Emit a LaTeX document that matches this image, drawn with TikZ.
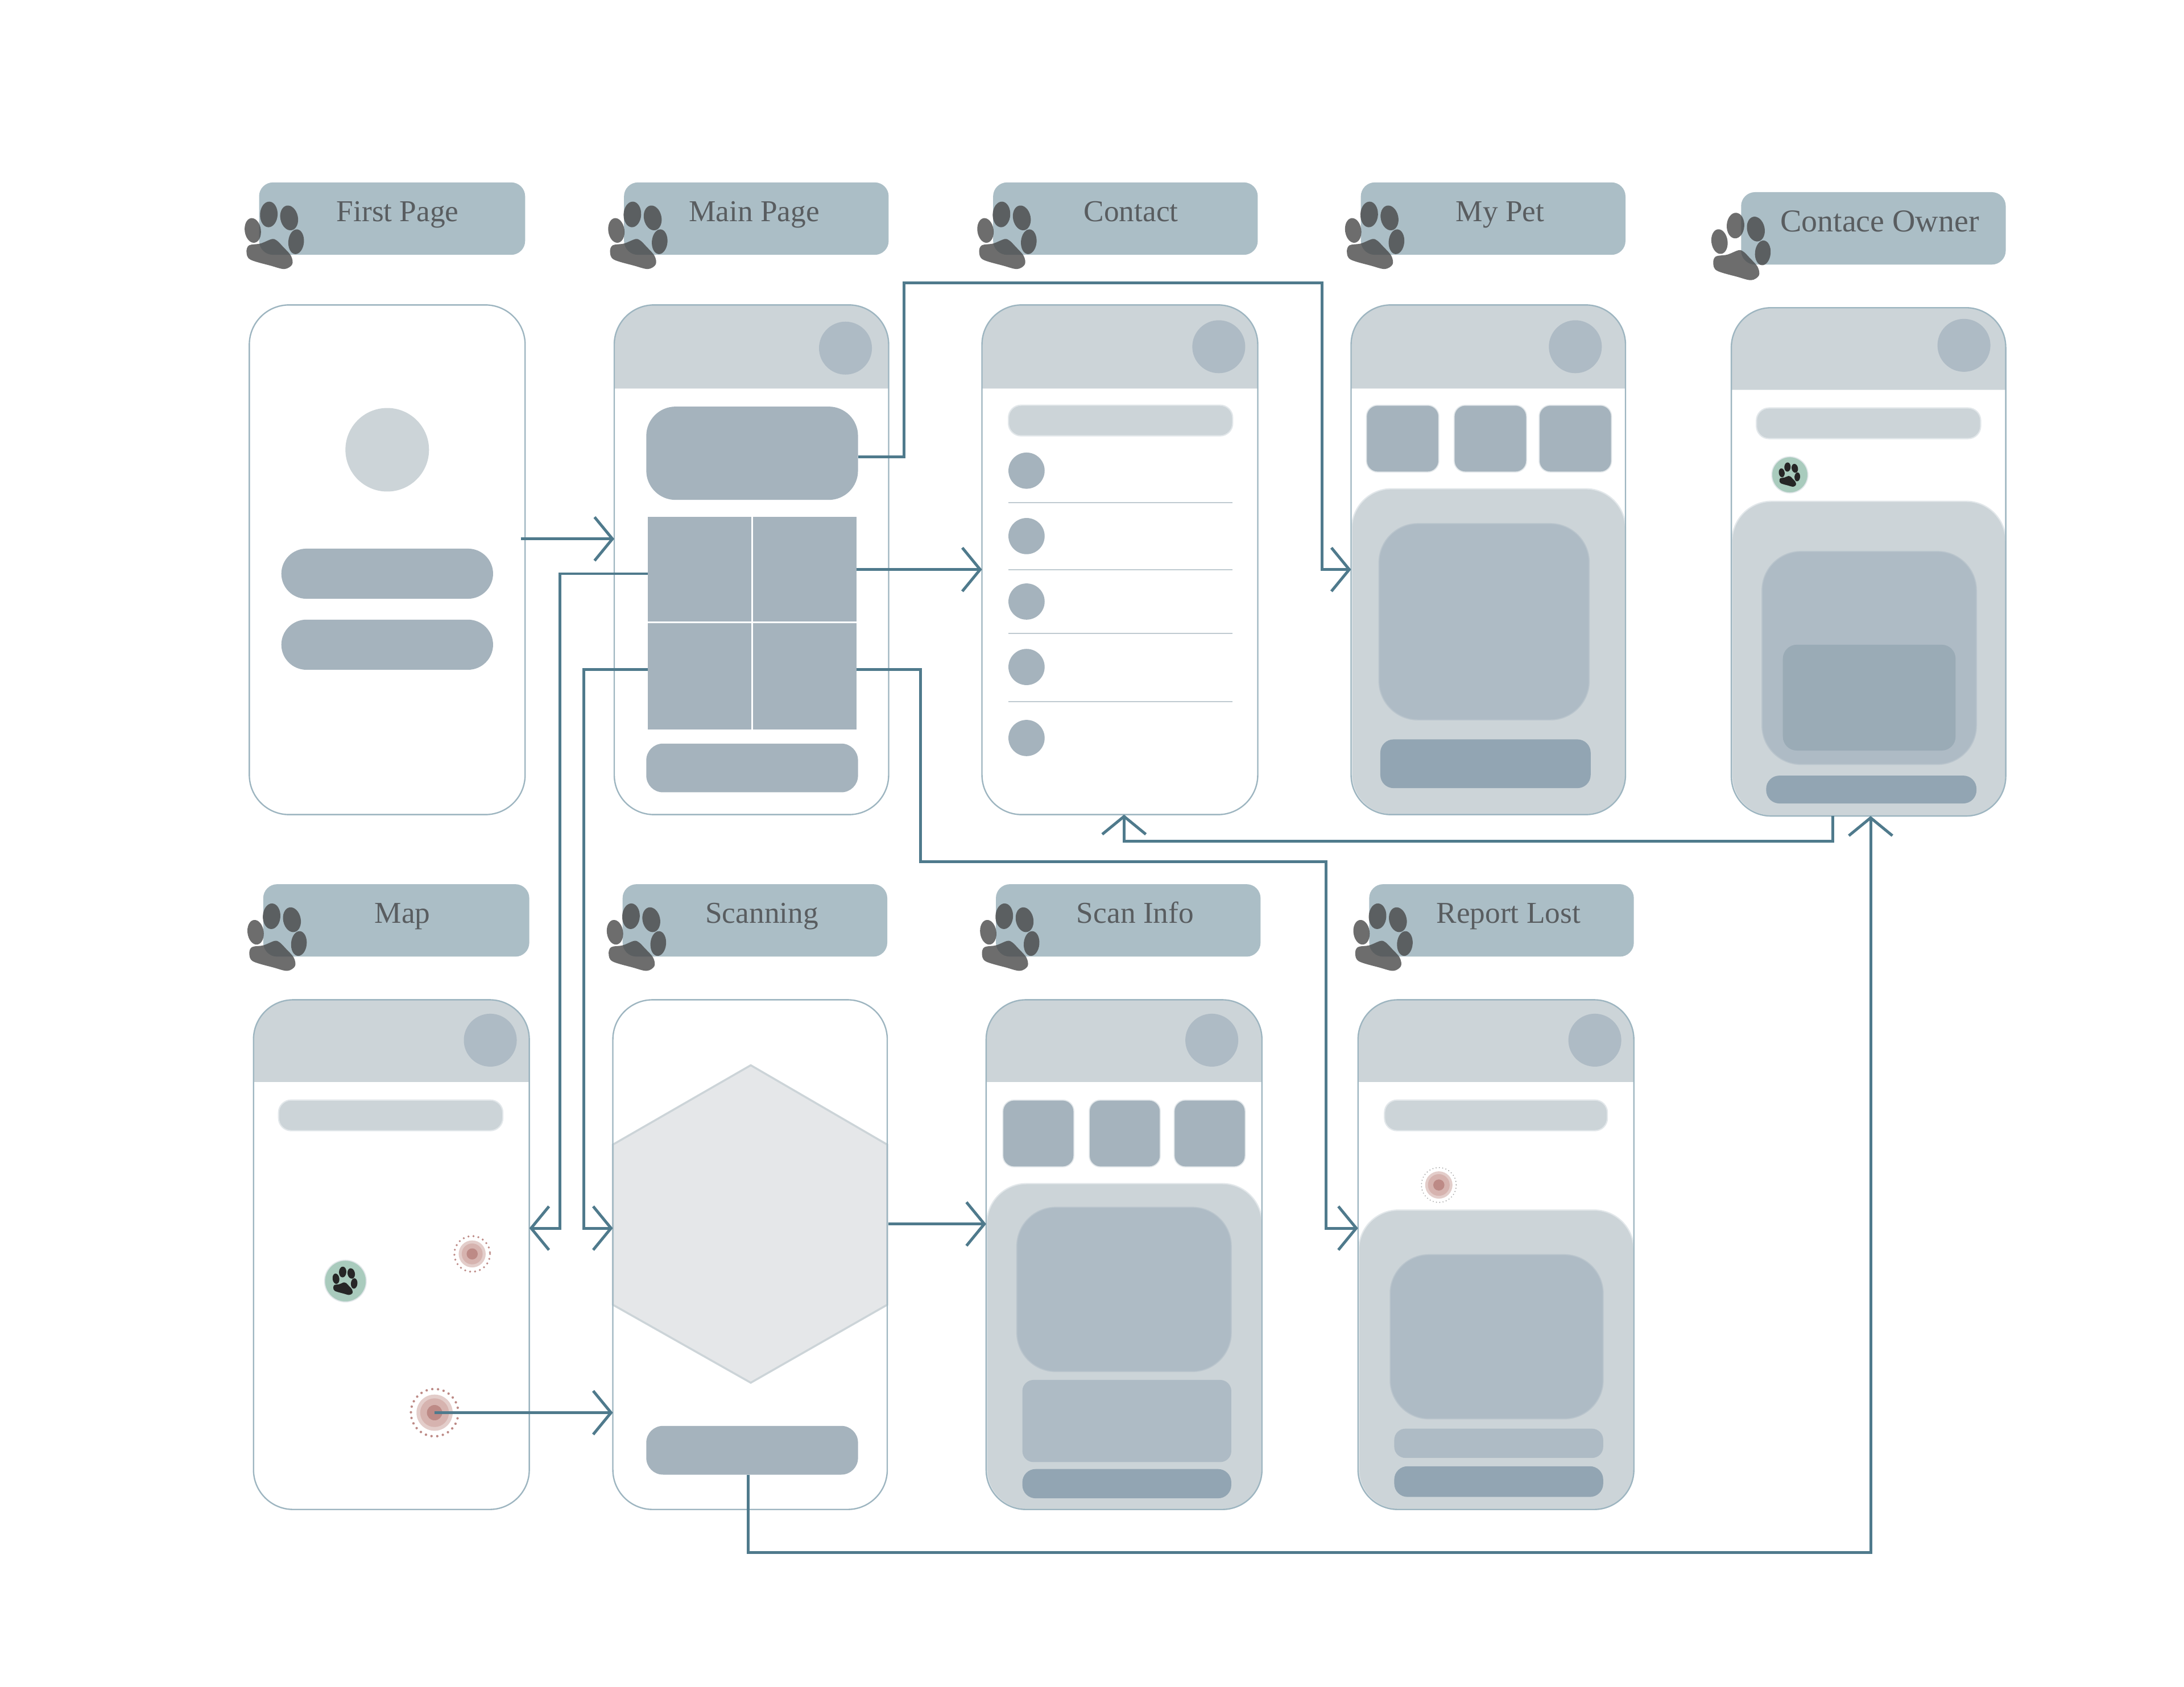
\documentclass[tikz,border=0pt]{standalone}
\usepackage{fontspec}
\setmainfont{Liberation Serif}
\usetikzlibrary{arrows.meta}
\definecolor{titlebox}{HTML}{ABBEC6}
\definecolor{frameline}{HTML}{9DB5C0}
\definecolor{hdr}{HTML}{CCD4D8}
\definecolor{soft}{HTML}{AEBBC5}
\definecolor{pill}{HTML}{A5B3BD}
\definecolor{deep}{HTML}{9AABB6}
\definecolor{btn}{HTML}{92A5B3}
\definecolor{rim}{HTML}{E2E7EA}
\definecolor{flowc}{HTML}{4F7A8C}
\definecolor{txt}{HTML}{595D60}
\definecolor{rose}{HTML}{BD8A86}
\definecolor{rosea}{HTML}{E3CDCA}
\definecolor{roseb}{HTML}{D6B3AF}
\definecolor{mint}{HTML}{A9CBBD}
\definecolor{hexfill}{HTML}{E5E7E9}
\definecolor{sepline}{HTML}{BFCAD0}
\tikzset{
  base/.style={rectangle,inner sep=0pt,outer sep=0pt},
  phone/.style={base,draw=frameline,line width=0.55pt,rounded corners=0.57cm},
  title/.style={base,fill=titlebox,rounded corners=0.2cm},
  hdrfill/.style={fill=hdr},
  barr/.style={base,fill=hdr,draw=rim,line width=0.5pt,rounded corners=0.18cm},
  panel/.style={base,fill=hdr,draw=rim,line width=0.5pt,rounded corners=0.57cm},
  softbig/.style={base,fill=soft,draw=soft!60!hdr,line width=0.4pt,rounded corners=0.56cm},
  softsmall/.style={base,fill=soft,rounded corners=0.16cm},
  deepbox/.style={base,fill=deep,rounded corners=0.2cm},
  pillbox/.style={base,fill=pill,rounded corners=0.24cm},
  pillbig/.style={base,fill=pill,rounded corners=0.36cm},
  cardbig/.style={base,fill=pill,rounded corners=0.42cm},
  squarebox/.style={base,fill=pill,draw=rim,line width=0.4pt,rounded corners=0.16cm},
  btnbox/.style={base,fill=btn,rounded corners=0.19cm},
  gridbox/.style={base,fill=pill},
  flow/.style={draw=flowc,line width=1.15pt,-{Straight Barb[length=7.3pt,width=17.8pt,line width=1.15pt]}},
  label/.style={inner sep=0pt,outer sep=0pt,anchor=base,text=txt,font=\fontsize{12.4}{14}\selectfont},
  sep/.style={draw=sepline,line width=0.4pt},
}
\newcommand\rr[6]{%
  \pgfmathsetmacro\rw{(#5-#3)*0.02}\pgfmathsetmacro\rh{(#6-#4)*0.02}%
  \node[#2,minimum width=\rw cm,minimum height=\rh cm] (#1) at ({(#3+#5)/2},{(#4+#6)/2}) {};}
\newcommand\disc[5]{%
  \pgfmathsetmacro\rd{2*#5*0.02}%
  \node[base,circle,#2,minimum size=\rd cm] (#1) at (#3,#4) {};}
\newcommand\header[4]{%
  \fill[hdrfill] (#1,#3) [rounded corners=0.57cm] -- (#1,#2) -- (#4,#2) [sharp corners] -- (#4,#3) -- cycle;}
\newcommand\pawshape{%
  (7,23) circle[x radius=6.3,y radius=9.2,rotate=-3]
  (21.6,25.5) circle[x radius=6.3,y radius=9,rotate=12]
  (26.6,42.6) circle[x radius=5.6,y radius=8.9,rotate=-5]
  (-4.5,34.5) circle[x radius=5.8,y radius=8.9,rotate=8]
  plot[smooth cycle,tension=.55] coordinates{(9.2,40.7)(1,43.9)(-7.2,45.2)(-9,50)(-6.3,55.4)(8.3,59.8)(18.3,62.2)(23.8,58.8)(22.9,52.7)(17,46)(12.8,41.8)}}
\newcommand\bigpaw[2]{\begin{scope}[shift={(#1,#2)}]\fill[fill=black!73,fill opacity=.78] \pawshape;\end{scope}}
\newcommand\minipaw[5]{%
  \disc{#1}{fill=mint,draw=rim,line width=0.4pt}{#2}{#3}{#4}
  \begin{scope}[shift={(#2,#3)},scale=#5,shift={(-11.7,-38.5)}]\fill[black!85] \pawshape;\end{scope}}
\newcommand\target[7]{%
  \disc{#1}{fill=rosea}{#2}{#3}{#5}
  \disc{#1b}{fill=roseb}{#2}{#3}{#6}
  \disc{#1c}{fill=rose}{#2}{#3}{#7}
  \draw[#1dots] (#2,#3) circle[radius=#4];}
\tikzset{
 tadots/.style={draw=rose,line width=1pt,line cap=round,dash pattern=on 0pt off 2.35pt},
 tbdots/.style={draw=rose,line width=.9pt,line cap=round,dash pattern=on 0pt off 2.05pt},
 tcdots/.style={draw=black!35,line width=.5pt,line cap=round,dash pattern=on 0pt off 1.35pt},
}
\begin{document}
\begin{tikzpicture}[x=0.02cm,y=-0.02cm]
\useasboundingbox (0,0) rectangle (1568,1211.5);
\fill[white] (0,0) rectangle (1568,1211.5);

% titles
\rr{tFirst}{title}{186}{131}{377}{183}
\rr{tMain}{title}{448}{131}{638}{183}
\rr{tContact}{title}{713}{131}{903}{183}
\rr{tPet}{title}{977}{131}{1167}{183}
\rr{tOwner}{title}{1250}{138}{1440}{190}
\rr{tMap}{title}{189}{635}{380}{687}
\rr{tScan}{title}{447}{635}{637}{687}
\rr{tInfo}{title}{715}{635}{905}{687}
\rr{tLost}{title}{983}{635}{1173}{687}
\bigpaw{186}{131}
\bigpaw{447}{131}
\bigpaw{712}{131}
\bigpaw{976}{131}
\bigpaw{1239}{139}
\bigpaw{188}{635}
\bigpaw{446}{635}
\bigpaw{714}{635}
\bigpaw{982}{635}
\node[label] (lFirst) at (285.5,159.2) {First Page};
\node[label] (lMain) at (541.5,159.2) {Main Page};
\node[label] (lContact) at (812,159.2) {Contact};
\node[label] (lPet) at (1077,159.2) {My Pet};
\node[label,font=\fontsize{13}{15}\selectfont] (lOwner) at (1349.5,166.2) {Contace Owner};
\node[label] (lMap) at (289,663) {Map};
\node[label] (lScan) at (547,663) {Scanning};
\node[label] (lInfo) at (815,663) {Scan Info};
\node[label] (lLost) at (1083,663) {Report Lost};

% First page
\disc{fLogo}{fill=hdr}{278}{323}{30}
\rr{fPillA}{pillbig}{202}{394}{354}{430}
\rr{fPillB}{pillbig}{202}{445}{354}{481}

% Main page
\header{441}{219}{279}{638}
\disc{mAvatar}{fill=soft}{607}{250}{19}
\rr{mCard}{cardbig}{464}{292}{616}{359}
\rr{mGrid}{gridbox}{465}{371}{615}{524}
\draw[white,line width=0.8pt] (540,371) -- (540,524) (465,447) -- (615,447);
\rr{mBtn}{pillbox}{464}{534}{616}{569}

% Contact
\header{705}{219}{279}{903}
\disc{cAvatar}{fill=soft}{875}{249}{19}
\rr{cBar}{barr}{724}{291}{885}{313}
\foreach \i/\y in {1/338,2/385,3/432,4/479,5/530}{\disc{cDot\i}{fill=pill}{737}{\y}{13}}
\foreach \y in {361,409,455,504}{\draw[sep] (724,\y) -- (885,\y);}

% My Pet
\header{970}{219}{279}{1167}
\disc{pAvatar}{fill=soft}{1131}{249}{19}
\rr{pSqA}{squarebox}{981}{291}{1033}{339}
\rr{pSqB}{squarebox}{1044}{291}{1096}{339}
\rr{pSqC}{squarebox}{1105}{291}{1157}{339}
\rr{pPanel}{panel}{970.5}{351}{1167}{585}
\rr{pInner}{softbig}{990}{376}{1141}{517}
\rr{pBtn}{btnbox}{991}{531}{1142}{566}

% Contact owner
\header{1243}{221}{280}{1440}
\disc{oAvatar}{fill=soft}{1410}{248}{19}
\rr{oBar}{barr}{1261}{293}{1422}{315}
\minipaw{oPaw}{1285}{341}{13}{.36}
\rr{oPanel}{panel}{1243.5}{360}{1440}{586}
\rr{oInner}{softbig}{1265}{396}{1419}{549}
\rr{oDeep}{deepbox}{1280}{463}{1404}{539}
\rr{oBtn}{btnbox}{1268}{557}{1419}{577}

% Map
\header{182}{718}{777}{380}
\disc{aAvatar}{fill=soft}{352}{747}{19}
\rr{aBar}{barr}{200}{790}{361}{812}
\minipaw{aPaw}{248}{920}{15}{.42}
\target{ta}{312}{1014.5}{17}{13}{10.3}{5.5}
\target{tb}{339}{900.5}{12.8}{9.7}{7.5}{4}

% Scanning
\fill[fill=hexfill,draw=hdr,line width=0.8pt] (539,765) -- (637,822) -- (637,937) -- (539,993) -- (440,937) -- (440,822) -- cycle;
\rr{sBtn}{pillbox}{464}{1024}{616}{1059}

% Scan info
\header{708}{718}{777}{906}
\disc{iAvatar}{fill=soft}{870}{747}{19}
\rr{iSqA}{squarebox}{720}{790}{771}{838}
\rr{iSqB}{squarebox}{782}{790}{833}{838}
\rr{iSqC}{squarebox}{843}{790}{894}{838}
\rr{iPanel}{panel}{708.5}{850}{906}{1084}
\rr{iInner}{softbig}{730}{867}{884}{985}
\rr{iRect}{softsmall}{734}{991}{884}{1050}
\rr{iBtn}{btnbox}{734}{1055}{884}{1076}

% Report lost
\header{975}{718}{777}{1173}
\disc{rAvatar}{fill=soft}{1145}{747}{19}
\rr{rBar}{barr}{994}{790}{1154}{812}
\target{tc}{1033}{851}{12.5}{9.8}{7.8}{4}
\rr{rPanel}{panel}{975.5}{869}{1173}{1084}
\rr{rInner}{softbig}{998}{901}{1151}{1019}
\rr{rRect}{softsmall}{1001}{1026}{1151}{1047}
\rr{rBtn}{btnbox}{1001}{1053}{1151}{1075}

% phone frames
\rr{first}{phone}{179}{219}{377}{585}
\rr{main}{phone}{441}{219}{638}{585}
\rr{contact}{phone}{705}{219}{903}{585}
\rr{pet}{phone}{970}{219}{1167}{585}
\rr{owner}{phone}{1243}{221}{1440}{586}
\rr{map}{phone}{182}{718}{380}{1084}
\rr{scan}{phone}{440}{718}{637}{1084}
\rr{info}{phone}{708}{718}{906}{1084}
\rr{lost}{phone}{975}{718}{1173}{1084}

% connector ports
\coordinate (mainIn) at (441,387);
\coordinate (firstOut) at (374,387);
\coordinate (contactIn) at (705,409);
\coordinate (petIn) at (970,409);
\coordinate (mapIn) at (380,882);
\coordinate (scanIn) at (440,882);
\coordinate (lostIn) at (975,882);
\coordinate (infoIn) at (708,879);
\coordinate (scanOut) at (638,879);
\coordinate (scanIn2) at (440,1014.5);
\coordinate (contactBack) at (807,585);
\coordinate (ownerOut) at (1316,586);
\coordinate (ownerIn) at (1343,586);
\coordinate (btnOut) at (537,1059);
\coordinate (railA) at (402,412);
\coordinate (railB) at (419,481);
\coordinate (railC) at (661,481);
\coordinate (railD) at (952,619);
\coordinate (railE) at (649,203);
\coordinate (railF) at (949,203);
\coordinate (railG) at (807,604);
\coordinate (railH) at (1343,1115);
\coordinate (railI) at (649,328);

\draw[flow] (firstOut) -- (mainIn);
\draw[flow] (mCard.east |- railI) -- (railI) -- (railE) -- (railF) |- (petIn);
\draw[flow] (mGrid.east |- contactIn) -- (contactIn);
\draw[flow] (mGrid.west |- railA) -- (railA) |- (mapIn);
\draw[flow] (mGrid.west |- railB) -- (railB) |- (scanIn);
\draw[flow] (mGrid.east |- railC) -- (railC) |- (railD) |- (lostIn);
\draw[flow] (ownerOut) |- (railG) -- (contactBack);
\draw[flow] (scanOut) -- (infoIn);
\draw[flow] (ta.center) -- (scanIn2);
\draw[flow] (btnOut) |- (railH) -- (ownerIn);
\end{tikzpicture}
\end{document}
